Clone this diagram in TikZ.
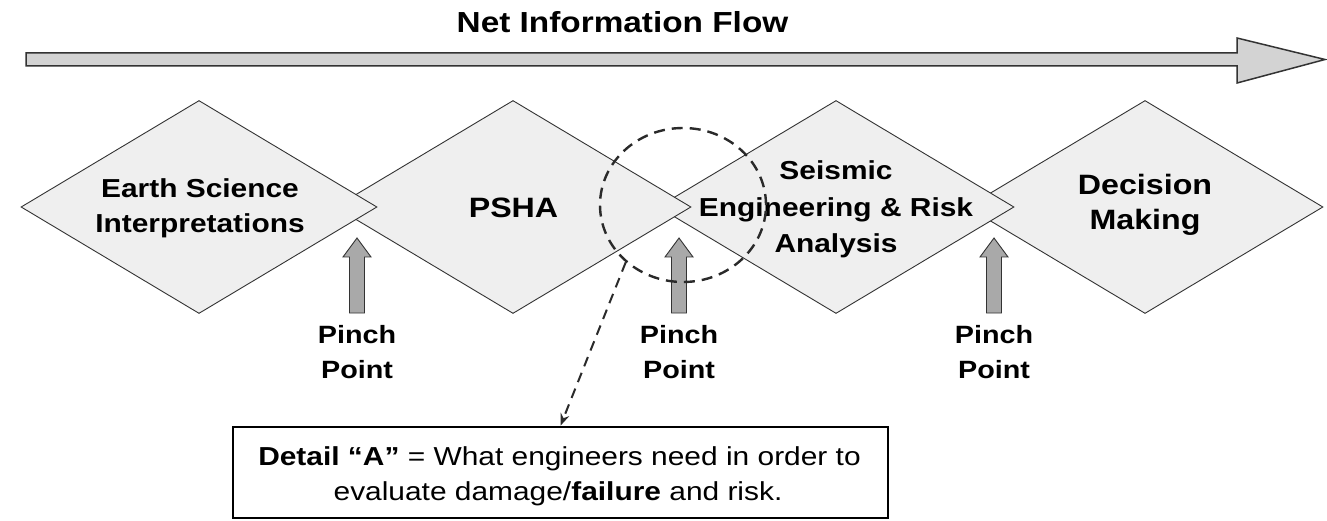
\documentclass[tikz,border=0pt]{standalone}
\usepackage{fontspec}
\setmainfont{Liberation Sans}[FakeStretch=1.15]
\usetikzlibrary{shapes.geometric,arrows.meta}

\definecolor{stagefill}{HTML}{EFEFEF}
\definecolor{edgegray}{HTML}{333333}
\definecolor{pinchfill}{HTML}{A9A9A9}
\definecolor{flowfill}{HTML}{D3D3D3}
\definecolor{dashgray}{HTML}{2A2A2A}

\tikzset{
  stage/.style={diamond, draw=edgegray, fill=stagefill, line width=0.9pt,
    minimum width=356pt, minimum height=213pt, inner sep=0pt, aspect=1.67},
  txt/.style={anchor=base, inner sep=0pt, font=\bfseries\fontsize{26}{30}\selectfont},
  bigtxt/.style={anchor=base, inner sep=0pt, font=\bfseries\fontsize{28}{32}\selectfont},
  pinchtxt/.style={anchor=base, inner sep=0pt, font=\bfseries\fontsize{25}{30}\selectfont},
  boxtxt/.style={anchor=base, inner sep=0pt, font=\fontsize{26}{30}\selectfont},
  flowarrow/.style={draw=edgegray, fill=flowfill, line width=1.5pt, line join=miter},
  pinch/.pic={
    \filldraw[draw=edgegray, fill=pinchfill, line width=0.9pt]
      (0,0) -- (14,19) -- (7.5,19) -- (7.5,75) -- (-7.5,75) -- (-7.5,19) -- (-14,19) -- cycle;
  },
  zone/.style={ellipse, draw=dashgray, line width=2.4pt, dash pattern=on 11pt off 7pt,
    minimum width=166pt, minimum height=154pt, inner sep=0pt},
  detailarrow/.style={draw=dashgray, line width=2pt, dash pattern=on 10pt off 7pt,
    -{Stealth[length=12pt,width=9pt]}},
  notebox/.style={rectangle, draw=black, line width=2.6pt, fill=white,
    minimum width=655pt, minimum height=91pt, inner sep=0pt}
}

\begin{document}
\begin{tikzpicture}[x=1pt,y=-1pt]
\useasboundingbox (0,0) rectangle (1327,521);
\fill[white] (0,0) rectangle (1327,521);

% heading and the long flow arrow
\node[txt, font=\bfseries\fontsize{29}{32}\selectfont] (title) at (622.5,33) {Net Information Flow};
\filldraw[flowarrow] (26,53) -- (1237,53) -- (1237,38) -- (1325,59.5)
  -- (1237,83) -- (1237,66) -- (26,66) -- cycle;

% the four stages, drawn right to left so each left tip lies on top
\node[stage] (decision) at (1145,207) {};
\node[stage] (seismic)  at (836,207) {};
\node[stage] (psha)     at (513,207) {};
\node[stage] (earth)    at (199,207) {};

% stage labels
\node[txt] (earth-a) at (200,198) {Earth Science};
\node[txt] (earth-b) at (200,233) {Interpretations};
\node[bigtxt] (psha-a) at (513.5,218) {PSHA};
\node[txt] (seis-a) at (836,180) {Seismic};
\node[txt] (seis-b) at (836,217) {Engineering \& Risk};
\node[txt] (seis-c) at (836,253) {Analysis};
\node[bigtxt] (dec-a) at (1145,195) {Decision};
\node[bigtxt] (dec-b) at (1145,230) {Making};

% pinch points between the stages
\pic (pinch1) at (357,238) {pinch};
\pic (pinch2) at (679,238) {pinch};
\pic (pinch3) at (994,238) {pinch};
\node[pinchtxt] (pp1a) at (357,343) {Pinch};
\node[pinchtxt] (pp1b) at (357,378) {Point};
\node[pinchtxt] (pp2a) at (679,343) {Pinch};
\node[pinchtxt] (pp2b) at (679,378) {Point};
\node[pinchtxt] (pp3a) at (994,343) {Pinch};
\node[pinchtxt] (pp3b) at (994,378) {Point};

% detail A marker and its note
\node[zone] (detailA) at (683,205) {};
\node[notebox] (note) at (560.5,472.5) {};
\node[boxtxt] (note-a) at (559.5,465) {\textbf{Detail “A”} = What engineers need in order to};
\node[boxtxt] (note-b) at (558,500) {evaluate damage/\textbf{failure} and risk.};
\draw[detailarrow] (detailA.225) -- (note.north);
\end{tikzpicture}
\end{document}
